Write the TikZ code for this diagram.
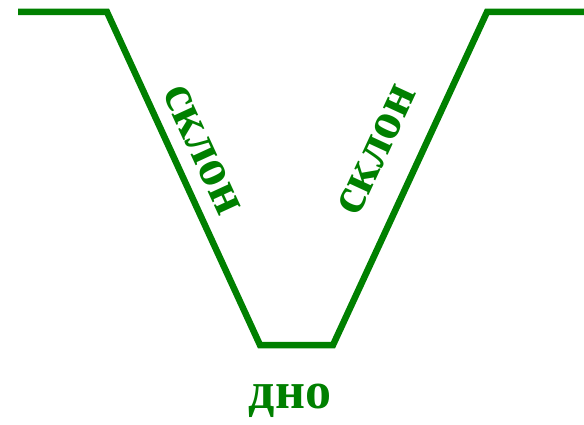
\documentclass[tikz,border=0pt]{standalone}
\usepackage{fontspec}
\setmainfont{Liberation Serif}
\begin{document}
\begin{tikzpicture}[
    x=1pt, y=-1pt,
    profile/.style={draw=RavineGreen, line width=6.5pt, line join=miter},
    label/.style={font=\fontsize{52}{52}\selectfont\bfseries, text=RavineGreen, inner sep=0pt},
]
    \definecolor{RavineGreen}{RGB}{0,128,0}
    \useasboundingbox (0,0) rectangle (584,425);

    % Ravine profile
    \coordinate (leftedge) at (18,12);
    \coordinate (lefttop) at (107,12);
    \coordinate (leftbottom) at (260,345);
    \coordinate (rightbottom) at (333,345);
    \coordinate (righttop) at (487,12);
    \coordinate (rightedge) at (584,12);
    \draw[profile] (leftedge) -- (lefttop) -- (leftbottom) -- (rightbottom)
        -- (righttop) -- (rightedge);

    % Labels
    \node[label, rotate=-65.3] (leftslope) at (202,150) {склон};
    \node[label, rotate=65.2] (rightslope) at (377,150) {склон};
    \node[label] (bottom) at (290,401) {дно};
\end{tikzpicture}
\end{document}
